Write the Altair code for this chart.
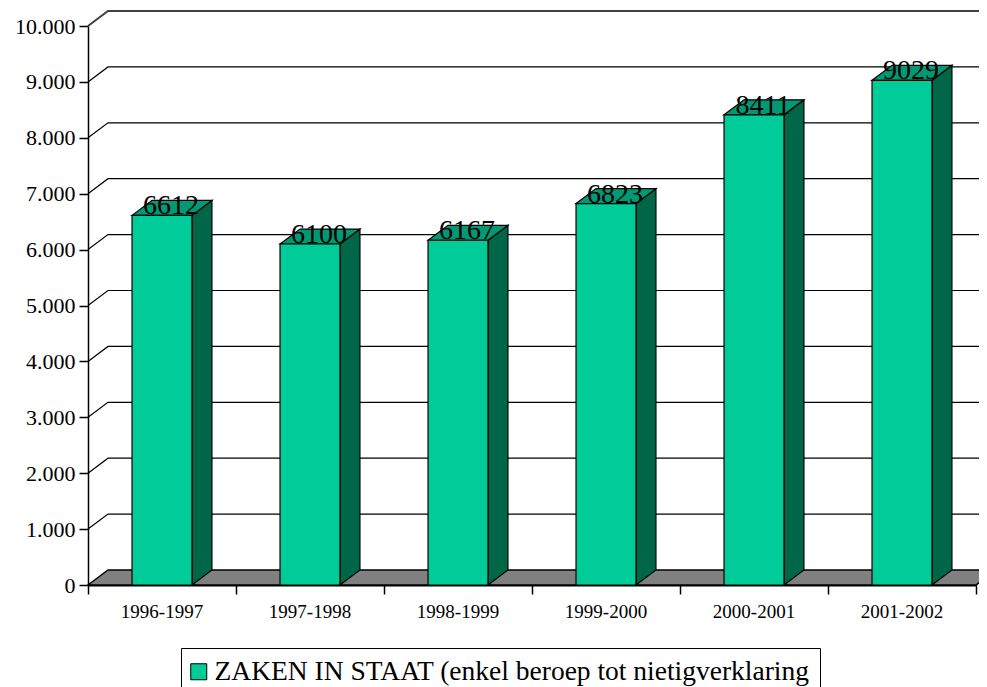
import altair as alt
import pandas as pd

# ---- data ----
categories = ["1996-1997", "1997-1998", "1998-1999", "1999-2000", "2000-2001", "2001-2002"]
values = [6612, 6100, 6167, 6823, 8411, 9029]
series_name = "ZAKEN IN STAAT (enkel beroep tot nietigverklaring"
y_ticks = [0, 1000, 2000, 3000, 4000, 5000, 6000, 7000, 8000, 9000, 10000]

# ---- style ----
FRONT = "#00CC99"
SIDE = "#006648"
TOP = "#009973"
FLOOR = "#808080"
FONT = "Liberation Serif"

DX = 0.135   # 3D depth along x (category units)
DY = 268     # 3D depth along y (value units)
BW = 0.405   # bar width (category units)
W, H = 888, 559
n = len(categories)
YMAX = y_ticks[-1]

x_scale = alt.Scale(domain=[0, n], nice=False, zero=False)
y_scale = alt.Scale(domain=[0, YMAX], nice=False, zero=False)

x_axis = alt.Axis(values=list(range(n + 1)), labels=False, title=None, grid=False,
                  tickSize=9, tickColor="black", tickWidth=1.5,
                  domainColor="black", domainWidth=2)
y_axis = alt.Axis(values=y_ticks, title=None, grid=False,
                  labelExpr="replace(format(datum.value, ','), ',', '.')",
                  labelFont=FONT, labelFontSize=22, labelColor="black", labelPadding=4,
                  tickSize=9, tickColor="black", tickWidth=1.5,
                  domainColor="black", domainWidth=1.5)


def X(f):
    return alt.X(f, type="quantitative", scale=x_scale, axis=x_axis)


def Y(f):
    return alt.Y(f, type="quantitative", scale=y_scale, axis=y_axis)


# ---- tables built from the arrays ----
front_rows, side_rows, top_rows, lab_rows, cat_rows = [], [], [], [], []
for i, (c, v) in enumerate(zip(categories, values)):
    xl = i + 0.5 - BW / 2
    xr = i + 0.5 + BW / 2
    front_rows.append({"x": xl, "x2": xr, "y": 0, "y2": v, "series": series_name})
    side_rows += [{"bar": i, "x": xr, "lo": 0, "hi": v},
                  {"bar": i, "x": xr + DX, "lo": DY, "hi": v + DY}]
    top_rows += [{"bar": i, "x": xl, "lo": v, "hi": v},
                 {"bar": i, "x": xl + DX, "lo": v, "hi": v + DY},
                 {"bar": i, "x": xr, "lo": v, "hi": v + DY},
                 {"bar": i, "x": xr + DX, "lo": v + DY, "hi": v + DY}]
    lab_rows.append({"x": i + 0.5 + DX * 0.45, "y": v, "label": str(v)})
    cat_rows.append({"x": i + 0.5, "y": 0, "label": c})

grid_rows, top_grid_rows = [], []
for t in y_ticks[1:]:
    pts = [(0, t), (DX, t + DY), (n + DX, t + DY)]
    target = top_grid_rows if t == YMAX else grid_rows
    for k, (xx, yy) in enumerate(pts):
        target.append({"tick": t, "k": k, "x": xx, "y": yy})

floor_rows = [{"x": 0, "lo": 0, "hi": 0}, {"x": DX, "lo": 0, "hi": DY},
              {"x": n, "lo": 0, "hi": DY}, {"x": n + DX, "lo": DY, "hi": DY}]

# ---- layers ----
grid = alt.Chart(pd.DataFrame(grid_rows)).mark_line(color="black", strokeWidth=1.2).encode(
    x=X("x"), y=Y("y"), detail="tick:N", order="k:Q")
top_grid = alt.Chart(pd.DataFrame(top_grid_rows)).mark_line(color="#404040", strokeWidth=2).encode(
    x=X("x"), y=Y("y"), detail="tick:N", order="k:Q")
floor = alt.Chart(pd.DataFrame(floor_rows)).mark_area(
    color=FLOOR, stroke="black", strokeWidth=1.5, opacity=1).encode(
    x=X("x"), y=Y("hi"), y2="lo")
sides = alt.Chart(pd.DataFrame(side_rows)).mark_area(
    color=SIDE, stroke="black", strokeWidth=1.2, opacity=1).encode(
    x=X("x"), y=Y("hi"), y2="lo", detail="bar:N")
tops = alt.Chart(pd.DataFrame(top_rows)).mark_area(
    color=TOP, stroke="black", strokeWidth=1.2, opacity=1).encode(
    x=X("x"), y=Y("hi"), y2="lo", detail="bar:N")
fronts = alt.Chart(pd.DataFrame(front_rows)).mark_rect(
    stroke="black", strokeWidth=1.2, opacity=1).encode(
    x=X("x"), x2="x2", y=Y("y"), y2="y2",
    color=alt.Color("series:N",
                    scale=alt.Scale(domain=[series_name], range=[FRONT]),
                    legend=alt.Legend(orient="none", legendX=93, legendY=622, title=None,
                                      symbolType="square", symbolSize=256,
                                      symbolStrokeColor="black", symbolStrokeWidth=1,
                                      symbolOpacity=1, symbolOffset=-6,
                                      labelFont=FONT, labelFontSize=27.5, labelColor="black",
                                      labelLimit=900, labelOffset=2,
                                      strokeColor="black", fillColor="white", padding=10)))
labels = alt.Chart(pd.DataFrame(lab_rows)).mark_text(
    font=FONT, fontSize=28, baseline="alphabetic", align="center", dy=-1, color="black").encode(
    x=X("x"), y=Y("y"), text="label:N")
cat_labels = alt.Chart(pd.DataFrame(cat_rows)).mark_text(
    font=FONT, fontSize=19, baseline="middle", align="center", dy=27, color="black").encode(
    x=X("x"), y=Y("y"), text="label:N")

chart = alt.layer(grid, top_grid, floor, sides, tops, fronts, labels, cat_labels).properties(
    width=W, height=H,
    autosize=alt.AutoSizeParams(type="none"),
    padding={"left": 80, "top": 18, "right": 3, "bottom": 102},
    background="white",
).configure_view(stroke=None).configure_axis(
    labelFont=FONT, labelFontSize=22, labelColor="black"
).configure_legend(labelFont=FONT)

chart.save("out.html", embed_options={"renderer": "svg", "actions": False})
